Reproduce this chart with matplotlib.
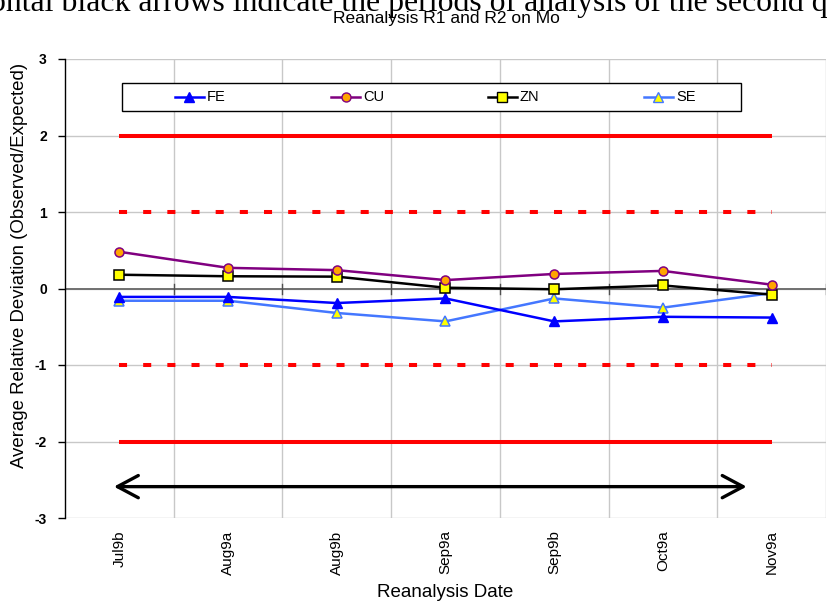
import matplotlib
matplotlib.use("Agg")
import matplotlib.pyplot as plt
from matplotlib.lines import Line2D
from matplotlib.patches import Rectangle
import numpy as np

categories = ["Jul9b", "Aug9a", "Aug9b", "Sep9a", "Sep9b", "Oct9a", "Nov9a"]
fe = [-0.11, -0.11, -0.19, -0.13, -0.43, -0.37, -0.38]
cu = [0.48, 0.27, 0.24, 0.11, 0.19, 0.23, 0.05]
zn = [0.18, 0.16, 0.155, 0.01, -0.01, 0.04, -0.08]
se = [-0.16, -0.16, -0.32, -0.43, -0.13, -0.25, -0.06]
yticks = [-3, -2, -1, 0, 1, 2, 3]
limit_solid = 2
limit_dash = 1
arrow_y = -2.59
arrow_x = [-0.05, 5.77]

plt.rcParams['font.family'] = ['Liberation Sans', 'DejaVu Sans']

fig = plt.figure(figsize=(8.28, 6.03), dpi=100)
W, H = 828, 603
ax = fig.add_axes([65/W, 1-518/H, (826-65)/W, (518-59)/H])

x = np.arange(len(categories))
ax.set_xlim(-0.5, len(categories) - 0.5)
ax.set_ylim(-3, 3)

# grid
for b in np.arange(0.5, len(categories), 1.0):
    ax.axvline(b, color='#c8c8c8', lw=1, zorder=0)
for t in yticks:
    ax.axhline(t, color='#c8c8c8', lw=1, zorder=0)

# limit lines
red_lw = 2.9
for v in (limit_solid, -limit_solid):
    ax.plot([x[0], x[-1]], [v, v], color='#ff0000', lw=red_lw, zorder=2, solid_capstyle='butt')
for v in (limit_dash, -limit_dash):
    ax.plot([x[0], x[-1]], [v, v], color='#ff0000', lw=red_lw, zorder=2,
            dashes=(2.0, 4.0), dash_capstyle='butt')

# zero axis line with crossing ticks
ax.axhline(0, color='#707070', lw=1.4, zorder=1)
for b in np.arange(0.5, len(categories), 1.0):
    ax.plot([b, b], [-0.07, 0.06], color='#505050', lw=1, zorder=1)

# arrow
ax.annotate('', xy=(arrow_x[0], arrow_y), xytext=(arrow_x[1], arrow_y),
            arrowprops=dict(arrowstyle='<->,head_length=1.5,head_width=0.8', color='black',
                            lw=2.4, shrinkA=0, shrinkB=0, mutation_scale=10),
            zorder=3)

# series
ms = 6.5
l_se, = ax.plot(x, se, color='#4477ff', lw=1.8, marker='^', ms=ms, mfc='#ffff00', mec='#4477ff', mew=1.1, zorder=4)
l_fe, = ax.plot(x, fe, color='#0000ff', lw=1.8, marker='^', ms=ms, mfc='#0000ff', mec='#0000ff', zorder=5)
l_zn, = ax.plot(x, zn, color='#000000', lw=1.8, marker='s', ms=ms, mfc='#ffff00', mec='#000000', mew=1.1, zorder=5)
l_cu, = ax.plot(x, cu, color='#800080', lw=1.8, marker='o', ms=ms, mfc='#ffa500', mec='#800080', mew=1.1, zorder=6)

# spines
for s in ['top', 'right', 'bottom']:
    ax.spines[s].set_visible(False)
ax.spines['left'].set_color('black')
ax.spines['left'].set_linewidth(1)

ax.set_yticks(yticks)
ax.set_yticklabels([str(t) for t in yticks], fontweight='bold', fontsize=10)
ax.tick_params(axis='y', length=5, width=1, pad=8)
ax.set_xticks(x)
ax.set_xticklabels(categories, rotation=90, fontsize=11)
ax.tick_params(axis='x', length=0, pad=9)

ax.set_ylabel('Average Relative Deviation (Observed/Expected)', fontsize=13.4)
ax.yaxis.set_label_coords(-0.049, 0.551)
ax.set_xlabel('Reanalysis Date', fontsize=13.5, labelpad=7)

# legend (manual frame)
fig.patches.append(Rectangle((122/W, 1-111/H), (741-122)/W, 28/H, transform=fig.transFigure,
                             facecolor='white', edgecolor='black', lw=1, zorder=10))
handles = [l_fe, l_cu, l_zn, l_se]
names = ['FE', 'CU', 'ZN', 'SE']
leg_y = 1 - 97/H
for i, (h, n) in enumerate(zip(handles, names)):
    x0 = 175 + i*156.3
    ln = Line2D([x0/W, (x0+29)/W], [leg_y, leg_y], transform=fig.transFigure,
                color=h.get_color(), lw=1.8, zorder=11)
    fig.lines.append(ln)
    mk = Line2D([(x0+14.5)/W], [leg_y], transform=fig.transFigure, marker=h.get_marker(),
                ms=6.5, mfc=h.get_mfc(), mec=h.get_mec(), mew=1.0, ls='none', zorder=12)
    fig.lines.append(mk)
    fig.text((x0+32)/W, leg_y, n, ha='left', va='center', fontsize=10.5, zorder=12)

fig.text(446/W, 1-19/H, 'Reanalysis R1 and R2 on Mo', ha='center', va='center', fontsize=12.5)
fig.text(-0.012, 1-11/H, 'ontal black arrows indicate the periods of analysis of the second q',
         ha='left', va='baseline', fontsize=22.9, family=['Liberation Serif', 'DejaVu Serif'])

fig.savefig('out.png', dpi=100)
